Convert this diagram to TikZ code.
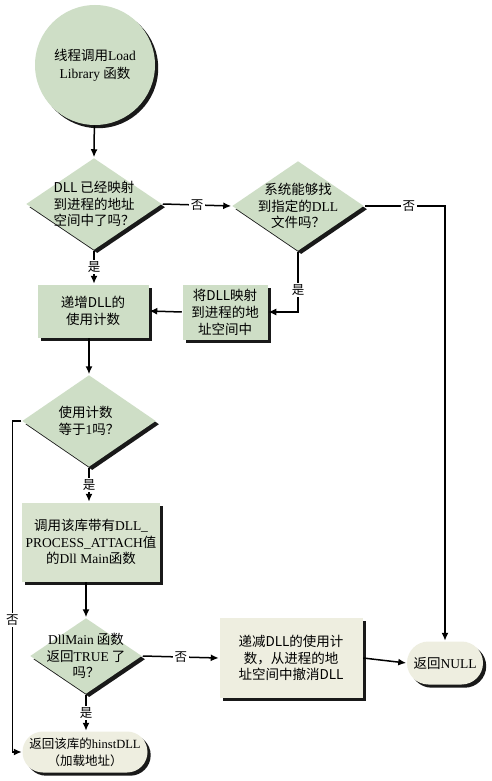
\documentclass[tikz,border=0pt]{standalone}
\usepackage{fontspec}
\setmainfont{Noto Sans CJK SC}
\newfontfamily\latinfont{Liberation Serif}
\newcommand{\lat}[1]{{\latinfont #1}}
\usetikzlibrary{shapes.geometric,shapes.misc,shadows,arrows.meta}
\definecolor{flowgreen}{RGB}{206,222,198}
\definecolor{flowcream}{RGB}{238,238,224}
\begin{document}
\begin{tikzpicture}[x=1pt, y=-1pt,
	every node/.style={font=\fontsize{13.5}{16.5}\selectfont, inner sep=0pt},
	shade/.style={drop shadow={shadow xshift=3.2pt, shadow yshift=-3.2pt, fill=black, opacity=0.9}},
	dia/.style={diamond, fill=flowgreen, shade},
	box/.style={rectangle, fill=flowgreen, shade, align=center},
	term/.style={rounded rectangle, fill=flowcream, shade, align=center},
	lbl/.style={fill=white, inner sep=1.5pt, font=\fontsize{12.5}{14}\selectfont},
	every path/.style={line width=1.5pt},
	flow/.style={-{Latex[length=8pt, width=7pt]}}]
			\fill[white] (0,0) rectangle (491,781);
			\node[circle, fill=flowgreen, shade, minimum size=120, align=center, font=\fontsize{13.5}{18}\selectfont] (start) at (95,65) {线程调用\lat{Load}\\\lat{Library} 函数};
			\node[dia, minimum width=136, minimum height=92] (d1) at (94,204) {};
			\node[align=left] (t1) at (d1) {DLL 已经映射\\到进程的地址\\空间中了吗？};
			\node[dia, minimum width=132, minimum height=90] (d2) at (298,206) {};
			\node[align=center] (t2) at (d2) {系统能够找\\到指定的\lat{DLL}\\文件吗？};
			\node[box, minimum width=111, minimum height=53] (b1) at (93,311) {递增DLL的\\使用计数};
			\node[box, minimum width=85, minimum height=55, font=\fontsize{13.5}{17}\selectfont] (b2) at (225,312) {将DLL映射\\到进程的地\\址空间中};
			\node[dia, minimum width=134, minimum height=92] (d3) at (89,421) {};
			\node[align=left] (t3) at (d3) {使用计数\\等于\lat{1}吗？};
			\node[box, fill=flowgreen!70!flowcream, minimum width=138, minimum height=79] (b3) at (91,542) {调用该库带有\lat{DLL\_}\\\lat{PROCESS\_ATTACH}值\\的\lat{Dll Main}函数};
			\node[dia, minimum width=112, minimum height=76] (d4) at (86,656) {};
			\node[align=center] (t4) at (d4) {\lat{DllMain} 函数\\返回\lat{TRUE} 了\\吗？};
			\node[box, fill=flowcream, minimum width=143, minimum height=80] (b4) at (291,658) {递减DLL的使用计\\数，从进程的地\\址空间中撤消DLL};
			\node[term, minimum width=76, minimum height=43] (null) at (445,663) {返回\lat{NULL}};
			\node[term, minimum width=125, minimum height=41, font=\fontsize{12.5}{17}\selectfont] (end) at (85,752) {返回该库的\lat{hinstDLL}\\（加载地址）};
			\draw[flow] (start) -- (d1.north);
			\draw[flow] (d1.east) -- node[lbl]{否} (d2.west);
			\draw[flow] (d2.east) -- node[lbl, pos=0.55]{否} (d2.east -| null.north) -- (null.north);
			\draw[flow] (d1.south) -- node[lbl]{是} (b1.north -| d1.south);
			\draw[flow] (d2.south) |- node[lbl, pos=0.32]{是} (b2.east);
			\draw[flow] (b2.west) -- (b1.east);
			\draw[flow] (b1.south -| d3.north) -- (d3.north);
			\draw[flow] (d3.west) -- ++(-9,0) |- node[lbl, pos=0.3]{否} (end.west);
			\draw[flow] (d3.south) -- node[lbl]{是} (d3.south |- b3.north);
			\draw[flow] (b3.south -| d4.north) -- (d4.north);
			\draw[flow] (d4.east) -- node[lbl]{否} (b4.west);
			\draw[flow] (b4.east) -- (null.west);
			\draw[flow] (d4.south) -- node[lbl]{是} (end.north -| d4.south);
		\end{tikzpicture}
\end{document}
